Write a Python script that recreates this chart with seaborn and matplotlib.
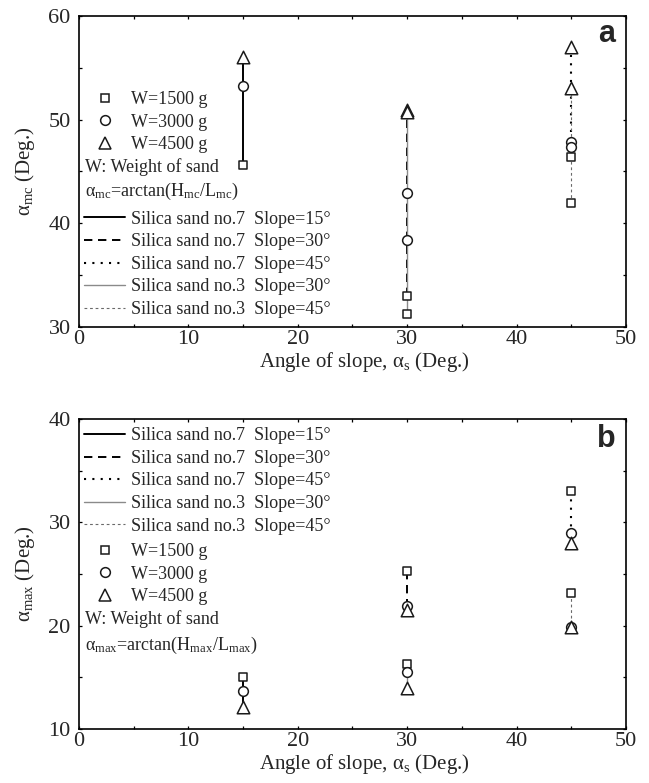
import matplotlib
matplotlib.use("Agg")
import matplotlib.pyplot as plt
from matplotlib.lines import Line2D
from matplotlib.ticker import MultipleLocator
import seaborn as sns
import pandas as pd

# ---------------- data ----------------
weights = ["W=1500 g", "W=3000 g", "W=4500 g"]
series_labels = ["Silica sand no.7  Slope=15\u00b0", "Silica sand no.7  Slope=30\u00b0",
                 "Silica sand no.7  Slope=45\u00b0", "Silica sand no.3  Slope=30\u00b0",
                 "Silica sand no.3  Slope=45\u00b0"]
series_slope = [15, 30, 45, 30, 45]

# panel a: alpha_mc (per series, W = 1500, 3000, 4500 g)
amc_s7_15 = [45.6, 53.2, 56.0]
amc_s7_30 = [33.0, 42.9, 50.9]
amc_s7_45 = [46.4, 47.8, 57.0]
amc_s3_30 = [31.3, 38.4, 50.7]
amc_s3_45 = [42.0, 47.4, 53.1]

# panel b: alpha_max
amax_s7_15 = [15.0, 13.7, 12.1]
amax_s7_30 = [25.3, 21.9, 21.5]
amax_s7_45 = [33.0, 29.0, 28.0]
amax_s3_30 = [16.3, 15.5, 14.0]
amax_s3_45 = [23.2, 19.9, 19.85]

x_ticks = [0, 10, 20, 30, 40, 50]
ya_ticks = [30, 40, 50, 60]
yb_ticks = [10, 20, 30, 40]

# ---------------- style ----------------
sns.set_style("ticks")
plt.rcParams["font.family"] = ["Liberation Serif", "DejaVu Serif"]
plt.rcParams["mathtext.fontset"] = "custom"
plt.rcParams["mathtext.rm"] = "Liberation Serif"
plt.rcParams["mathtext.it"] = "Liberation Serif:italic"
plt.rcParams["mathtext.bf"] = "Liberation Serif:bold"

line_styles = [
    dict(color="black", lw=1.4, ls="-"),
    dict(color="black", lw=1.4, ls=(0, (4.3, 2.9))),
    dict(color="black", lw=1.5, ls=(0, (1, 3))),
    dict(color="#8a8a8a", lw=1.0, ls="-"),
    dict(color="#6a6a6a", lw=0.8, ls=(0, (2.5, 2.5))),
]
marker_styles = {"W=1500 g": ("s", 6.3), "W=3000 g": ("o", 7.0), "W=4500 g": ("^", 9.0)}


def build_df(series_vals):
    rows = []
    for lab, sl, vals in zip(series_labels, series_slope, series_vals):
        for w, v in zip(weights, vals):
            rows.append(dict(series=lab, slope=sl, value=v, weight=w))
    return pd.DataFrame(rows)


df_a = build_df([amc_s7_15, amc_s7_30, amc_s7_45, amc_s3_30, amc_s3_45])
df_b = build_df([amax_s7_15, amax_s7_30, amax_s7_45, amax_s3_30, amax_s3_45])

fig = plt.figure(figsize=(6.49, 7.83), dpi=100)
ax_a = fig.add_axes([0.1217, 0.5824, 0.8428, 0.3972])
ax_b = fig.add_axes([0.1217, 0.069, 0.8428, 0.3959])


def draw(ax, df):
    for lab, st in zip(series_labels, line_styles):
        sub = df[df["series"] == lab]
        sns.lineplot(data=sub, x="slope", y="value", estimator=None, sort=False,
                     color=st["color"], lw=st["lw"], linestyle=st["ls"], ax=ax,
                     legend=False, zorder=2)
    for w in weights:
        m, ms = marker_styles[w]
        sub = df[df["weight"] == w]
        sns.scatterplot(data=sub, x="slope", y="value", marker=m, s=ms ** 2,
                        facecolor="white", edgecolor="#1a1a1a", linewidth=1.1,
                        ax=ax, legend=False, zorder=3)


def style_axes(ax, yticks):
    ax.set_xlim(0, 50)
    ax.set_ylim(yticks[0], yticks[-1])
    ax.set_xticks(x_ticks)
    ax.set_yticks(yticks)
    ax.xaxis.set_minor_locator(MultipleLocator(5))
    ax.yaxis.set_minor_locator(MultipleLocator(5))
    ax.tick_params(which="both", direction="in", top=True, right=True,
                   length=2.3, width=0.9, color="black")
    ax.tick_params(axis="x", labelsize=16, pad=2.5)
    ax.tick_params(axis="y", labelsize=16, pad=6)
    for sp in ax.spines.values():
        sp.set_linewidth(1.2)
        sp.set_color("black")
    ax.set_xlabel("Angle of slope, \u03b1$_{\\rm s}$ (Deg.)", fontsize=15)
    ax.xaxis.set_label_coords(0.521, -0.074)


def marker_handles():
    return [Line2D([], [], ls="none", marker=marker_styles[w][0], ms=marker_styles[w][1],
                   mfc="white", mec="#1a1a1a", mew=1.1) for w in weights]


def line_handles():
    return [Line2D([], [], color=st["color"], lw=st["lw"], ls=st["ls"]) for st in line_styles]


leg_kw = dict(frameon=False, borderpad=0, borderaxespad=0, handlelength=2.3,
              handletextpad=0.3, labelspacing=0.31, fontsize=13, loc="center left")

# ---------------- panel a ----------------
draw(ax_a, df_a)
style_axes(ax_a, ya_ticks)
ax_a.set_ylabel("\u03b1$_{\\rm mc}$ (Deg.)", fontsize=15)
ax_a.yaxis.set_label_coords(-0.076, 0.5)
l1 = ax_a.legend(marker_handles(), weights, bbox_to_anchor=(0.0091, 0.659), **leg_kw)
ax_a.add_artist(l1)
ax_a.legend(line_handles(), series_labels, bbox_to_anchor=(0.0091, 0.2013), **leg_kw)
ax_a.text(0.011, 0.515, "W: Weight of sand", transform=ax_a.transAxes,
          fontsize=13, va="center", ha="left")
ax_a.text(0.011, 0.435, "\u03b1$_{\\rm mc}$=arctan(H$_{\\rm mc}$/L$_{\\rm mc}$)",
          transform=ax_a.transAxes, fontsize=13, va="center", ha="left")
ax_a.text(0.98, 0.916, "a", transform=ax_a.transAxes, fontsize=22, fontweight="bold",
          family="Liberation Sans", ha="right", va="baseline")

# ---------------- panel b ----------------
draw(ax_b, df_b)
style_axes(ax_b, yb_ticks)
ax_b.set_ylabel("\u03b1$_{\\rm max}$ (Deg.)", fontsize=15)
ax_b.yaxis.set_label_coords(-0.076, 0.5)
l2 = ax_b.legend(line_handles(), series_labels, bbox_to_anchor=(0.0091, 0.80), **leg_kw)
ax_b.add_artist(l2)
ax_b.legend(marker_handles(), weights, bbox_to_anchor=(0.0091, 0.499), **leg_kw)
ax_b.text(0.011, 0.354, "W: Weight of sand", transform=ax_b.transAxes,
          fontsize=13, va="center", ha="left")
ax_b.text(0.011, 0.271, "\u03b1$_{\\rm max}$=arctan(H$_{\\rm max}$/L$_{\\rm max}$)",
          transform=ax_b.transAxes, fontsize=13, va="center", ha="left")
ax_b.text(0.982, 0.909, "b", transform=ax_b.transAxes, fontsize=22, fontweight="bold",
          family="Liberation Sans", ha="right", va="baseline")

fig.savefig("out.png", dpi=100)
